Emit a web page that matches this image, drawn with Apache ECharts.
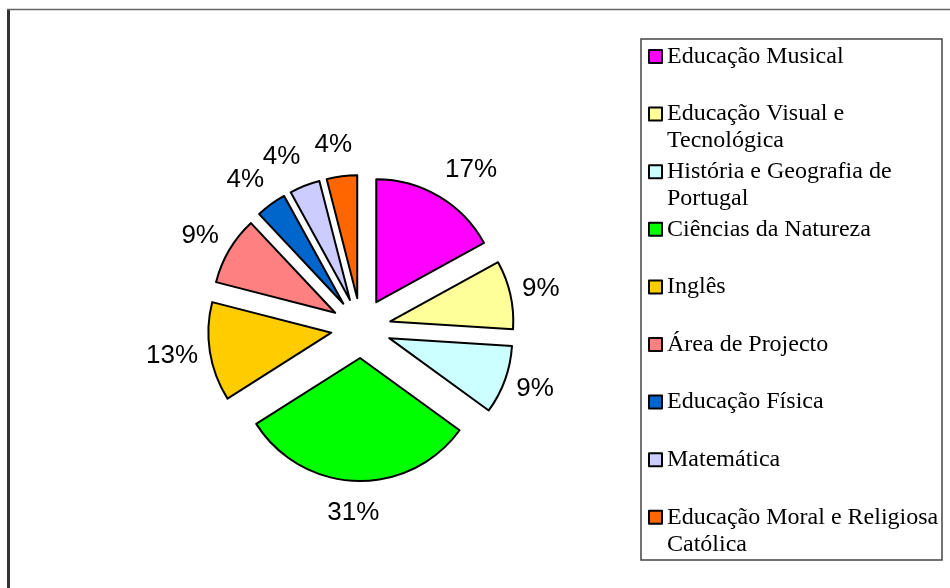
<!DOCTYPE html>
<html><head><meta charset="utf-8">
<script src="https://cdn.jsdelivr.net/npm/echarts@6/dist/echarts.min.js"></script>
<style>html,body{margin:0;padding:0;background:#fff}#c{width:950px;height:588px}</style>
</head><body><div id="c"></div>
<script>
const categories = ['Educação Musical', 'Educação Visual e Tecnológica', 'História e Geografia de Portugal', 'Ciências da Natureza', 'Inglês', 'Área de Projecto', 'Educação Física', 'Matemática', 'Educação Moral e Religiosa Católica'];
const values = [17, 9, 9, 31, 13, 9, 4, 4, 4];
const colors = ['#FF00FF', '#FFFF99', '#CCFFFF', '#00FF00', '#FFCC00', '#FF8080', '#0066CC', '#CCCCFF', '#FF6600'];

const LEG_FONT = '24px "Liberation Serif"';
const ctx = document.createElement('canvas').getContext('2d');
ctx.font = LEG_FONT;
function wrapName(name, maxW) {
  const words = name.split(' ');
  const lines = [];
  let cur = '';
  words.forEach(w => {
    const t = cur ? cur + ' ' + w : w;
    if (cur && ctx.measureText(t).width > maxW) { lines.push(cur); cur = w; }
    else cur = t;
  });
  if (cur) lines.push(cur);
  return lines;
}

// mid angles of slices (clockwise from 12 o'clock), derived from the data
const total = values.reduce((a, b) => a + b, 0);
const midAngles = [];
(function () { let acc = 0; values.forEach(v => { midAngles.push((acc + v / 2) / total * 2 * Math.PI); acc += v; }); })();
const clamp = v => Math.max(-1, Math.min(1, v));

const data = categories.map((c, i) => ({
  name: c, value: values[i], selected: true,
  itemStyle: { color: colors[i] }
}));

const chart = echarts.init(document.getElementById('c'), null, { renderer: 'canvas' });
chart.setOption({
  animation: false,
  backgroundColor: '#fff',
  graphic: [
    { type: 'line', shape: { x1: 8.5, y1: 9, x2: 8.5, y2: 600 }, style: { stroke: '#333', lineWidth: 3 } },
    { type: 'line', shape: { x1: 7, y1: 9.5, x2: 960, y2: 9.5 }, style: { stroke: '#666', lineWidth: 1.5 } },
    { type: 'rect', shape: { x: 641, y: 39, width: 301, height: 521 }, style: { fill: 'none', stroke: '#444', lineWidth: 1.5 }, z: -1 }
  ],
  legend: {
    orient: 'vertical',
    left: 648,
    top: 16,
    padding: 0,
    itemGap: -23.4,
    itemWidth: 13,
    itemHeight: 13,
    icon: 'rect',
    itemStyle: { borderColor: '#000', borderWidth: 2 },
    selectedMode: false,
    data: categories,
    formatter: function (name) {
      const lines = wrapName(name, 274);
      const all = [' '].concat(lines);
      if (lines.length === 1) all.push(' ');
      return all.join('\n');
    },
    textStyle: {
      fontFamily: 'Liberation Serif',
      fontSize: 24,
      lineHeight: 27,
      color: '#000'
    }
  },
  series: [{
    type: 'pie',
    center: [361, 328],
    radius: 123,
    startAngle: 90,
    clockwise: true,
    selectedMode: 'multiple',
    selectedOffset: 30,
    avoidLabelOverlap: false,
    emphasis: { scale: false },
    itemStyle: { borderColor: '#000', borderWidth: 2 },
    label: {
      show: true,
      position: 'outside',
      fontFamily: 'Liberation Sans',
      fontSize: 26,
      color: '#000',
      distanceToLabelLine: 0,
      formatter: p => Math.round(p.percent) + '%'
    },
    labelLine: { show: false, length: 0, length2: 0 },
    labelLayout: function (p) {
      const th = midAngles[p.dataIndex];
      const ux = Math.sin(th), uy = -Math.cos(th);
      const w = p.labelRect.width, h = p.labelRect.height;
      const gap = 12;
      return {
        align: 'center', verticalAlign: 'middle',
        dx: gap * ux + clamp(3 * ux) * w / 2,
        dy: gap * uy + uy * h / 2 + 7 * uy * Math.abs(uy)
      };
    },
    data: data
  }]
});
</script></body></html>
